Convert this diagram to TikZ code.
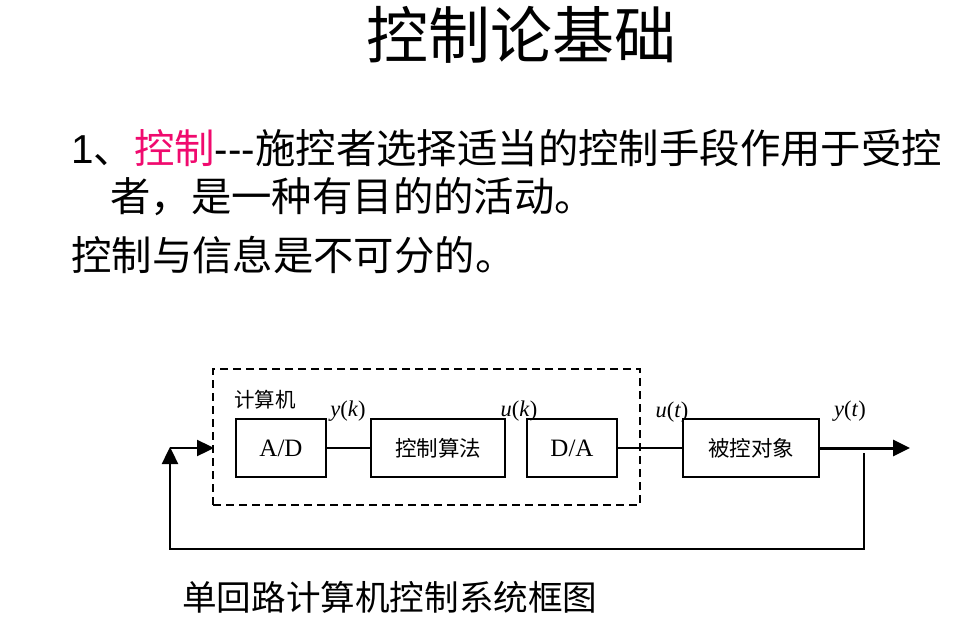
\documentclass[tikz,border=0pt]{standalone}
\usepackage{fontspec}
\setmainfont{Liberation Serif}
\newfontfamily\cjk{Noto Sans CJK SC}
\newfontfamily\arialf{Liberation Sans}
\usetikzlibrary{arrows.meta}
\definecolor{hot}{RGB}{240,10,110}
\tikzset{
  blk/.style={draw, line width=1.8pt, minimum height=58pt, inner sep=0pt, font=\fontsize{25}{27}\selectfont},
  lbl/.style={inner sep=0pt, font=\fontsize{22.5}{24}\selectfont},
  wire/.style={line width=1.8pt},
  heavy/.style={line width=3pt},
  tip/.style={-{Triangle[length=17pt,width=16pt]}}
}
\begin{document}
\begin{tikzpicture}[x=1pt,y=-1pt]
\useasboundingbox (0,0) rectangle (962,618);
% title
\node[inner sep=0pt, font=\cjk\fontsize{62}{66}\selectfont] (title) at (521,35) {控制论基础};
% body text
\node[anchor=west, inner sep=0pt, font=\fontsize{40.4}{44}\selectfont] (l1) at (71,148)
  {\arialf 1\cjk 、\textcolor{hot}{控制}\arialf ---\cjk 施控者选择适当的控制手段作用于受控};
\node[anchor=west, inner sep=0pt, font=\cjk\fontsize{40.4}{44}\selectfont] (l2) at (110,197) {者，是一种有目的的活动。};
\node[anchor=west, inner sep=0pt, font=\cjk\fontsize{40.4}{44}\selectfont] (l3) at (71,255) {控制与信息是不可分的。};
% computer dashed box
\node[draw, dash pattern=on 8pt off 5pt, line width=2.4pt, minimum width=427pt, minimum height=136pt, inner sep=0pt] (comp) at (426.5,437) {};
\node[anchor=west, inner sep=0pt, font=\cjk\fontsize{20.5}{22}\selectfont] (complbl) at (234,400) {计算机};
% blocks
\node[blk, minimum width=90pt] (ad) at (281,448) {A/D};
\node[blk, minimum width=134pt, font=\cjk\fontsize{21.5}{24}\selectfont] (alg) at (438,448) {控制算法};
\node[blk, minimum width=90pt] (da) at (572,448) {D/A};
\node[blk, minimum width=136pt, font=\cjk\fontsize{21.5}{24}\selectfont] (plant) at (751,448) {被控对象};
% labels
\node[lbl] (yk) at (348,411) {\textit{y}(\textit{k})};
\node[lbl] (uk) at (519,411) {\textit{u}(\textit{k})};
\node[lbl] (ut) at (672,412) {\textit{u}(\textit{t})};
\node[lbl] (yt) at (850,411) {\textit{y}(\textit{t})};
% connectors
\coordinate (out) at (910,448);
\coordinate (fb) at (864,453);
\coordinate (bl) at (170,549);
\coordinate (fj) at (170,447);
\coordinate (fs) at (170,448);
\coordinate (cin) at (214,448);
\draw[wire] (ad.east) -- (alg.west);
\draw[wire] (da.east) -- (plant.west);
\draw[heavy, tip] (plant.east) -- (out);
\draw[wire, line width=2.4pt, tip] (fb) |- (bl) -- (fj);
\draw[wire, line width=2.4pt, tip] (fs) -- (cin);
% caption
\node[anchor=west, inner sep=0pt, font=\cjk\fontsize{34.6}{38}\selectfont] (cap) at (182,597) {单回路计算机控制系统框图};
\end{tikzpicture}
\end{document}
